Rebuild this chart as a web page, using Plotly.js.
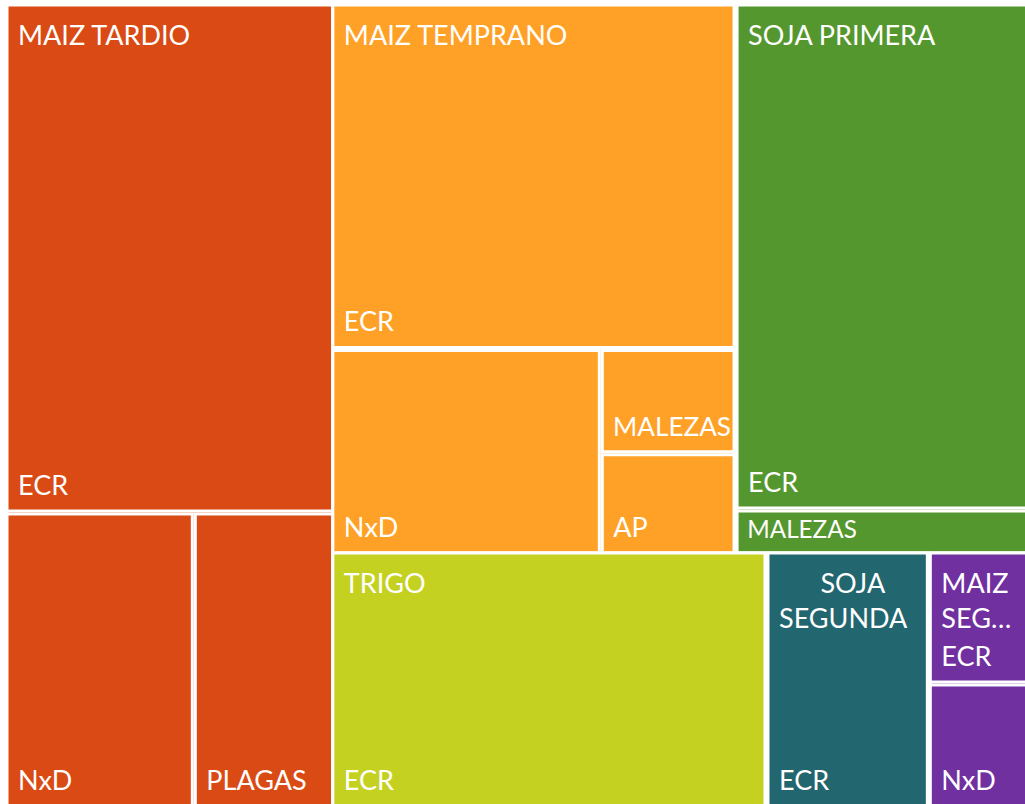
<!DOCTYPE html>
<html><head><meta charset="utf-8">
<script src="https://cdn.plot.ly/plotly-3.0.1.min.js"></script>
<style>html,body{margin:0;padding:0;overflow:hidden;background:#fff}</style>
</head><body><div id="chart"></div>
<script>
// Cultivos (nivel superior)
const cultivos = ["MAIZ TARDIO", "MAIZ TEMPRANO", "SOJA PRIMERA", "TRIGO", "SOJA SEGUNDA", "MAIZ SEGUNDA"];
const etiquetasCultivo = ["MAIZ TARDIO", "MAIZ TEMPRANO", "SOJA PRIMERA", "TRIGO",
  "\u00a0\u00a0\u00a0\u00a0\u00a0\u00a0SOJA<br>SEGUNDA", "MAIZ<br>SEG\u2026"];
const coloresCultivo = ["#DA4A14", "#FFA126", "#55972F", "#C5D121", "#22666F", "#7030A0"];

// Ensayos (hojas)
const ensayoCultivo = ["MAIZ TARDIO", "MAIZ TARDIO", "MAIZ TARDIO",
  "MAIZ TEMPRANO", "MAIZ TEMPRANO", "MAIZ TEMPRANO", "MAIZ TEMPRANO",
  "SOJA PRIMERA", "SOJA PRIMERA",
  "TRIGO", "SOJA SEGUNDA", "MAIZ SEGUNDA", "MAIZ SEGUNDA"];
const ensayoTipo = ["ECR", "NxD", "PLAGAS",
  "ECR", "NxD", "MALEZAS", "AP",
  "ECR", "MALEZAS",
  "ECR", "ECR", "ECR", "NxD"];
const ensayoValor = [20.2, 6.7, 5.0,
  16.9, 6.7, 1.7, 1.65,
  18.0, 1.6,
  13.4, 5.0, 1.6, 1.5];

// Arrangement of the top-level tiles as in the original chart
const grupos = [[0], [1, 2], [3, 4, 5]];

const FONT = "Lato, 'Open Sans', sans-serif";
const FIG_W = 1050, FIG_H = 830, M = {l: 7, t: 5, r: 0, b: 0};
const PW = FIG_W - M.l - M.r, PH = FIG_H - M.t - M.b;
const AREA_W = 1021, AREA_H = 801;      // drawing area in pixels
const LABEL_DX = 8, LABEL_DY = 10;      // inner padding of crop labels

const sumCultivo = cultivos.map(c => ensayoValor.reduce((s, v, i) => s + (ensayoCultivo[i] === c ? v : 0), 0));
const sumGrupo = grupos.map(g => g.reduce((s, i) => s + sumCultivo[i], 0));
const total = sumGrupo.reduce((p, q) => p + q, 0);
const xa = AREA_W * sumGrupo[0] / total;
const yb = AREA_H * sumGrupo[1] / (sumGrupo[1] + sumGrupo[2]);
const rects = [
  [0, xa, 0, AREA_H],
  [xa, AREA_W, 0, yb],
  [xa, AREA_W, yb, AREA_H]
];
function dom(r, dx, dy) {
  return {x: [(r[0] + dx) / PW, (r[1] + dx) / PW], y: [1 - (r[3] + dy) / PH, 1 - (r[2] + dy) / PH]};
}

const traces = [];
grupos.forEach((g, gi) => {
  const ids = [], labels = [], parents = [], values = [], colors = [];
  g.forEach(ci => {
    const c = cultivos[ci];
    ids.push(c); labels.push(c); parents.push(""); values.push(sumCultivo[ci]); colors.push(coloresCultivo[ci]);
    ensayoTipo.forEach((t, i) => {
      if (ensayoCultivo[i] === c) {
        ids.push(c + "/" + t); labels.push(t); parents.push(c); values.push(ensayoValor[i]); colors.push(coloresCultivo[ci]);
      }
    });
  });
  traces.push({
    type: "treemap", ids, labels, parents, values, branchvalues: "total",
    sort: true, tiling: {packing: "squarify"},
    marker: {colors, line: {color: "#ffffff", width: 3}, pad: {t: 0, l: 0, r: 0, b: 0}},
    texttemplate: "<span style='font-size:16px'>\u2002</span><span style='font-size:27px'>%{label}</span><br>\u00a0",
    textposition: "bottom left",
    textfont: {family: FONT, size: 8.5, color: "#ffffff"},
    pathbar: {visible: false}, domain: dom(rects[gi], 0, 0), hoverinfo: "label+value"
  });
});
// crop labels (top-left of each crop tile)
grupos.forEach((g, gi) => {
  traces.push({
    type: "treemap",
    ids: g.map(ci => cultivos[ci]),
    labels: g.map(ci => cultivos[ci]),
    parents: g.map(() => ""),
    values: g.map(ci => sumCultivo[ci]),
    text: g.map(ci => etiquetasCultivo[ci]),
    branchvalues: "total", sort: true, tiling: {packing: "squarify"},
    marker: {colors: g.map(() => "rgba(0,0,0,0)"), line: {width: 0}, pad: {t: 0, l: 0, r: 0, b: 0}},
    textinfo: "text", textposition: "top left",
    textfont: {family: FONT, size: 27, color: "#ffffff"},
    pathbar: {visible: false}, domain: dom(rects[gi], LABEL_DX, LABEL_DY), hoverinfo: "skip"
  });
});

Plotly.newPlot("chart", traces, {
  width: FIG_W, height: FIG_H,
  margin: M,
  paper_bgcolor: "#ffffff",
  showlegend: false
}, {displayModeBar: false});
</script>
</body></html>
